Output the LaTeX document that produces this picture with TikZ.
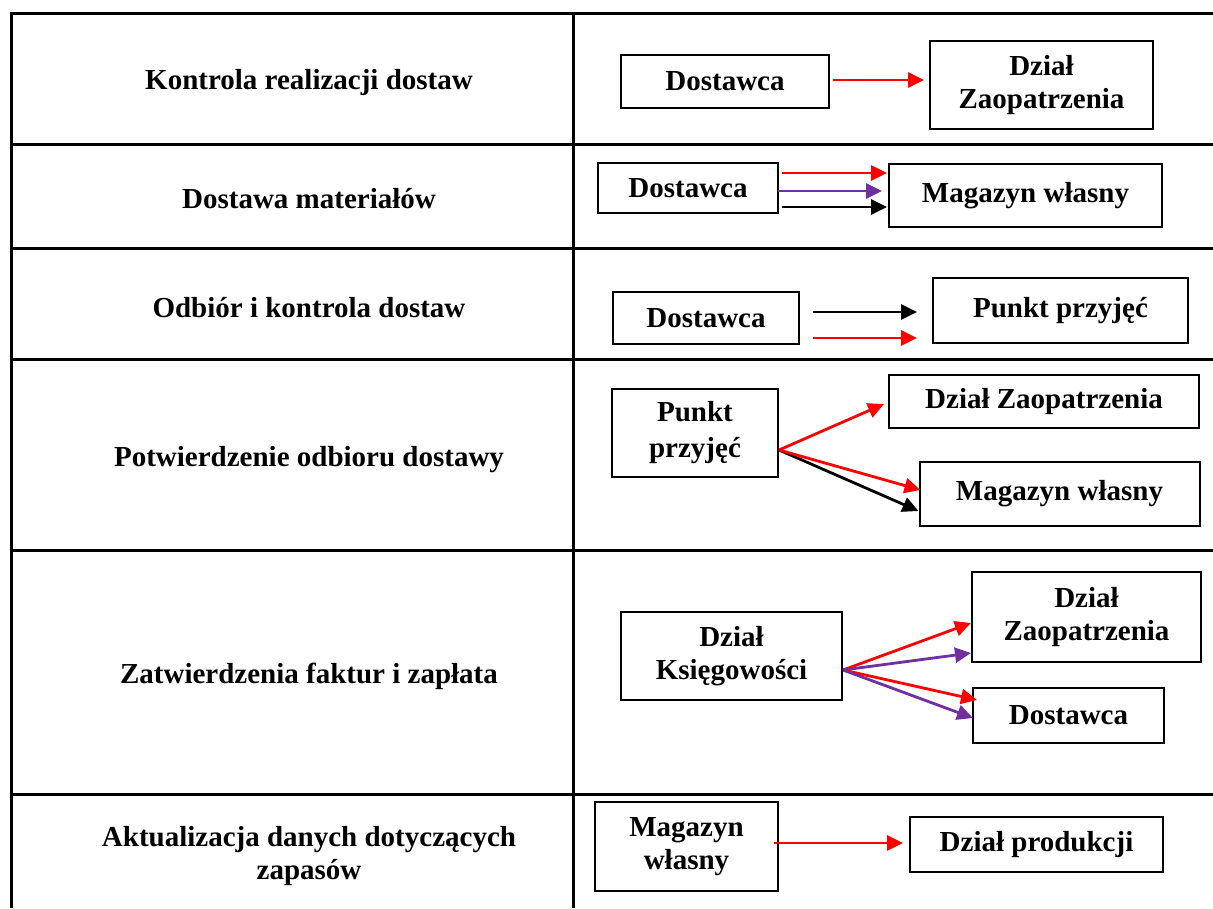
\documentclass[tikz,border=0pt]{standalone}
\usepackage{fontspec}
\setmainfont{Liberation Serif}
\usetikzlibrary{arrows.meta,calc}
\definecolor{arrred}{RGB}{255,0,0}
\definecolor{arrpurple}{RGB}{112,48,160}
\begin{document}
\begin{tikzpicture}[x=1pt,y=-1pt,
  grid/.style={line width=3pt},
  box/.style={draw, line width=2pt, inner sep=0pt, align=center,
    font=\bfseries\fontsize{29}{33}\selectfont},
  lbl/.style={align=center, font=\bfseries\fontsize{29}{33}\selectfont},
  flow/.style={line width=2.8pt, -{Triangle[length=16pt,width=15pt]}},
  fred/.style={flow, draw=arrred, color=arrred},
  fpur/.style={flow, draw=arrpurple, color=arrpurple},
  fblk/.style={flow, draw=black, color=black},
]
\useasboundingbox (0,0) rectangle (1213,908);
\fill[white] (0,0) rectangle (1213,908);

% table grid
\foreach \yy in {13,144,248,359,550,794}
  \draw[grid] (11,\yy) -- (1213,\yy);
\draw[grid] (11,11.5) -- (11,908);
\draw[grid] (573,11.5) -- (573,908);

% left column labels
\node[lbl] (r1) at (309,83) {Kontrola realizacji dostaw};
\node[lbl] (r2) at (309,199) {Dostawa materiałów};
\node[lbl] (r3) at (309,308) {Odbiór i kontrola dostaw};
\node[lbl] (r4) at (309,460) {Potwierdzenie odbioru dostawy};
\node[lbl] (r5) at (309,676) {Zatwierdzenia faktur i zapłata};
\node[lbl] (r6) at (309,856) {Aktualizacja danych dotyczących\\zapasów};

% row 1
\node[box, minimum width=208pt, minimum height=53pt] (a1) at (725,81.5) {Dostawca};
\node[box, minimum width=223pt, minimum height=88pt] (b1) at (1041.5,85) {Dział\\Zaopatrzenia};
\draw[fred] ($(a1.east)+(3,-1.5)$) -- ($(b1.west)+(-5,-5)$);

% row 2
\node[box, minimum width=180pt, minimum height=50pt] (a2) at (688,188) {Dostawca};
\node[box, minimum width=273pt, minimum height=63pt] (b2) at (1025.5,195.5) {Magazyn własny};
\draw[fred] ($(a2.east)+(3,-15)$) -- ($(b2.west)+(-1,-22.5)$);
\draw[fpur] ($(a2.east)+(-1,3)$) -- ($(b2.west)+(-6,-4.5)$);
\draw[fblk] ($(a2.east)+(3,19)$) -- ($(b2.west)+(-1,11.5)$);

% row 3
\node[box, minimum width=186pt, minimum height=52pt] (a3) at (706,318) {Dostawca};
\node[box, minimum width=255pt, minimum height=65pt] (b3) at (1060.5,310.5) {Punkt przyjęć};
\draw[fblk] ($(a3.east)+(13,-6)$) -- ($(b3.west)+(-15,1.5)$);
\draw[fred] ($(a3.east)+(13,20)$) -- ($(b3.west)+(-15,27.5)$);

% row 4
\node[box, minimum width=166pt, minimum height=88pt,
  font=\bfseries\fontsize{29}{36}\selectfont] (a4) at (695,433) {Punkt\\przyjęć};
\node[box, minimum width=310pt, minimum height=53pt] (b4) at (1044,401.5) {Dział Zaopatrzenia};
\node[box, minimum width=280pt, minimum height=64pt] (c4) at (1059.5,494) {Magazyn własny};
\coordinate (o4) at ($(a4.east)+(0,17)$);
\draw[fred] (o4) -- ($(b4.west)+(-4,2.5)$);
\draw[fblk] (o4) -- ($(c4.west)+(0,17)$);
\draw[fred] (o4) -- ($(c4.west)+(2,-4)$);

% row 5
\node[box, minimum width=221pt, minimum height=88pt] (a5) at (731.5,656) {Dział\\Księgowości};
\node[box, minimum width=229pt, minimum height=90pt] (b5) at (1086.5,617) {Dział\\Zaopatrzenia};
\node[box, minimum width=191pt, minimum height=55pt] (c5) at (1068.5,715.5) {Dostawca};
\coordinate (o5) at ($(a5.east)+(0,14)$);
\draw[fred] (o5) -- ($(b5.west)+(0,6)$);
\draw[fpur] (o5) -- ($(b5.west)+(0,36)$);
\draw[fred] (o5) -- ($(c5.west)+(5,-15.5)$);
\draw[fpur] (o5) -- ($(c5.west)+(1,2.5)$);

% row 6
\node[box, minimum width=183pt, minimum height=89pt] (a6) at (686.5,846.5) {Magazyn\\własny};
\node[box, minimum width=253pt, minimum height=55pt] (b6) at (1036.5,844.5) {Dział produkcji};
\draw[fred] ($(a6.east)+(-5,-3.5)$) -- ($(b6.west)+(-6,-1.5)$);
\end{tikzpicture}
\end{document}
